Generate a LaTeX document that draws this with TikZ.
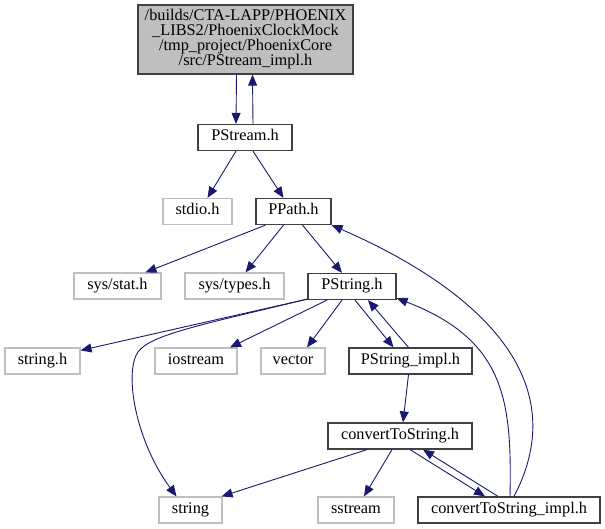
\documentclass[tikz,border=0pt]{standalone}
\usepackage{fontspec}
\setmainfont{Liberation Serif}
\usetikzlibrary{arrows.meta}
\definecolor{edgeblue}{HTML}{191970}
\definecolor{boxgray}{HTML}{BFBFBF}
\definecolor{boxdark}{HTML}{404040}

\begin{document}
\begin{tikzpicture}[x=1pt,y=-1pt]
\tikzstyle{every node}+=[inner sep=0pt, font=\fontsize{16.3}{15}\selectfont]
\tikzstyle{mainbox}=[draw=boxdark, fill=boxgray, line width=1.2pt, align=center]
\tikzstyle{docbox}=[draw=boxdark, line width=1.2pt, minimum height=26pt, text height=11pt, text depth=4pt]
\tikzstyle{extbox}=[draw=boxgray, line width=1.2pt, minimum height=26pt, text height=11pt, text depth=4pt]
\tikzstyle{dep}=[draw=edgeblue, line width=0.9pt, -{Triangle[length=11pt,width=9pt]}]
\useasboundingbox (0,0) rectangle (605,529);
\node [mainbox, minimum width=215pt, minimum height=69pt] (pstreamimpl) at (245.5,39.5) {/builds/CTA-LAPP/PHOENIX\\\_LIBS2/PhoenixClockMock\\/tmp\_project/PhoenixCore\\/src/PStream\_impl.h};
\node [docbox, minimum width=94pt] (pstream) at (245,137.5) {PStream.h};
\node [extbox, minimum width=69pt] (stdio) at (197.5,211.5) {stdio.h};
\node [docbox, minimum width=75pt] (ppath) at (293.5,211.5) {PPath.h};
\node [extbox, minimum width=87pt] (sysstat) at (117.5,286) {sys/stat.h};
\node [extbox, minimum width=99pt] (systypes) at (234.5,286) {sys/types.h};
\node [docbox, minimum width=88pt] (pstring) at (352,286.5) {PString.h};
\node [extbox, minimum width=75pt] (stringh) at (42.5,361) {string.h};
\node [extbox, minimum width=82pt] (iostream) at (196,361) {iostream};
\node [extbox, minimum width=64pt] (vector) at (293,361) {vector};
\node [docbox, minimum width=123pt] (pstringimpl) at (410.5,361) {PString\_impl.h};
\node [docbox, minimum width=144pt] (convert) at (400,436) {convertToString.h};
\node [extbox, minimum width=63pt] (stringstd) at (190.5,510) {string};
\node [extbox, minimum width=76pt] (sstream) at (356,510) {sstream};
\node [docbox, minimum width=182pt] (convertimpl) at (509,510) {convertToString\_impl.h};
\draw [dep] ([xshift=-9pt]pstreamimpl.south) -- ([xshift=-9pt]pstream.north);
\draw [dep] ([xshift=8pt]pstream.north) -- ([xshift=7pt]pstreamimpl.south);
\draw [dep] ([xshift=-9pt]pstream.south) -- ([xshift=10pt]stdio.north);
\draw [dep] ([xshift=8pt]pstream.south) -- ([xshift=-10pt]ppath.north);
\draw [dep] ([xshift=-28pt]ppath.south) -- ([xshift=28pt]sysstat.north);
\draw [dep] ([xshift=-10pt]ppath.south) -- ([xshift=11pt]systypes.north);
\draw [dep] ([xshift=9pt]ppath.south) -- ([xshift=-10pt]pstring.north);
\draw [dep] ([yshift=1pt]pstring.south west) -- ([yshift=-3pt]stringh.north east);
\draw [dep] ([yshift=1pt]pstring.south west) .. controls (200,325) and (150,335) .. (138,352) .. controls (124,372) and (135,440) .. ([xshift=-14pt]stringstd.north);
\draw [dep] ([xshift=-25pt]pstring.south) -- ([xshift=34pt]iostream.north);
\draw [dep] ([xshift=-10pt]pstring.south) -- ([xshift=14pt]vector.north);
\draw [dep] ([xshift=3pt]pstring.south) -- ([xshift=-17pt]pstringimpl.north);
\draw [dep] ([xshift=-2pt]pstringimpl.north) -- ([xshift=16pt]pstring.south);
\draw [dep] ([xshift=-2pt]pstringimpl.south) -- ([xshift=3pt]convert.north);
\draw [dep] ([xshift=-33pt]convert.south) -- ([xshift=-1pt]stringstd.north east);
\draw [dep] ([xshift=-8pt]convert.south) -- ([xshift=8pt]sstream.north);
\draw [dep] ([xshift=10pt]convert.south) -- ([xshift=-24pt]convertimpl.north);
\draw [dep] ([xshift=-11pt]convertimpl.north) -- ([xshift=23pt]convert.south);
\draw [dep] ([xshift=1pt]convertimpl.north) .. controls (512,400) and (505,340) .. ([yshift=2pt]pstring.south east);
\draw [dep] ([xshift=5pt]convertimpl.north) .. controls (575,380) and (480,290) .. (ppath.south east);
\end{tikzpicture}
\end{document}
